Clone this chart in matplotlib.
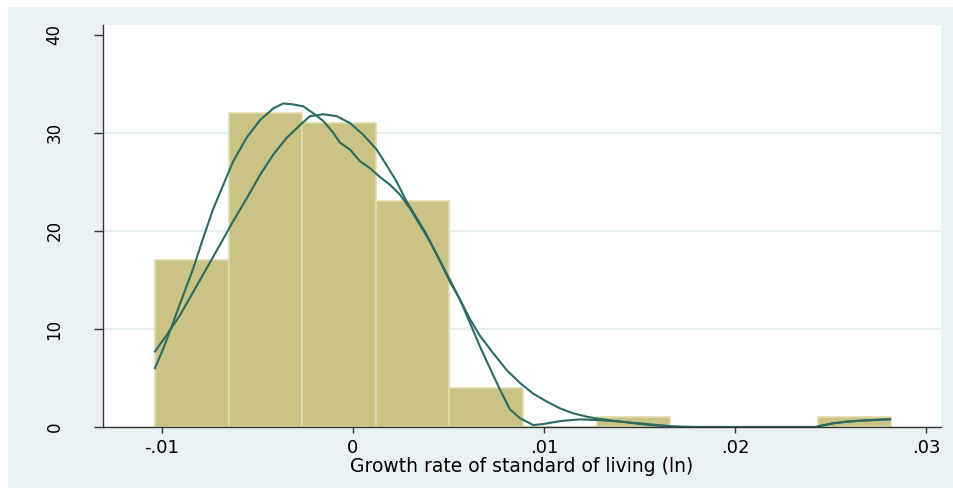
# growth_hist.py
# Histogram of standard-of-living growth rates with two density overlays

import numpy as np
import matplotlib.pyplot as plt
from matplotlib.patches import Rectangle

# Histogram bins (left edge of first bin, bin width) and counts per bin
bin_start = -0.01037
bin_width = 0.003855
counts = [17, 32, 31, 23, 4, 0, 1, 0, 0, 1]

# Wiggly density curve (narrow bandwidth), scaled to frequency
dens_a_x = [-0.01037, -0.00993, -0.00941, -0.00888, -0.00836, -0.00784, -0.00731,
            -0.00679, -0.00627, -0.00557, -0.00487, -0.00417, -0.00365, -0.00313,
            -0.00260, -0.00208, -0.00155, -0.00103, -0.00068, -0.00016, 0.00037,
            0.00089, 0.00141, 0.00194, 0.00246, 0.00298, 0.00351, 0.00403, 0.00455,
            0.00508, 0.00560, 0.00613, 0.00665, 0.00717, 0.00770, 0.00822, 0.00874,
            0.00944, 0.00996, 0.01084, 0.01189, 0.01293, 0.01398, 0.01503, 0.01607,
            0.01677, 0.01740, 0.01820, 0.02000, 0.02200, 0.02424, 0.02445, 0.02515,
            0.02585, 0.02654, 0.02724, 0.02812]
dens_a_y = [6.0, 8.0, 10.7, 13.5, 16.2, 19.3, 22.3,
            24.7, 27.1, 29.5, 31.3, 32.5, 33.0, 32.9,
            32.7, 32.0, 31.2, 30.0, 29.0, 28.3, 27.1,
            26.4, 25.5, 24.7, 23.7, 22.3, 20.6, 18.9, 17.0,
            15.0, 13.0, 10.6, 8.2, 6.0, 3.8, 1.8, 0.9,
            0.2, 0.3, 0.6, 0.78, 0.7, 0.55, 0.37, 0.17,
            0.04, 0.01, 0.0, 0.0, 0.0, 0.0, 0.10, 0.38,
            0.54, 0.64, 0.71, 0.79]

# Smooth density curve (wide bandwidth), scaled to frequency
dens_b_x = [-0.01037, -0.00975, -0.00906, -0.00836, -0.00766, -0.00696, -0.00627,
            -0.00557, -0.00487, -0.00417, -0.00347, -0.00277, -0.00225, -0.00155,
            -0.00085, -0.00016, 0.00054, 0.00124, 0.00176, 0.00229, 0.00281,
            0.00334, 0.00386, 0.00438, 0.00508, 0.00560, 0.00613, 0.00665, 0.00735,
            0.00805, 0.00874, 0.00944, 0.01014, 0.01084, 0.01153, 0.01224, 0.01293,
            0.01363, 0.01433, 0.01503, 0.01572, 0.01642, 0.01712, 0.01800, 0.02000,
            0.02200, 0.02424, 0.02445, 0.02515, 0.02585, 0.02654, 0.02724, 0.02812]
dens_b_y = [7.7, 9.4, 11.4, 13.8, 16.2, 18.6, 21.0,
            23.3, 25.7, 27.8, 29.5, 30.8, 31.7, 31.9,
            31.7, 31.0, 29.8, 28.3, 26.7, 25.0, 23.0,
            21.3, 19.6, 17.6, 14.8, 13.0, 11.0, 9.3, 7.5,
            5.8, 4.5, 3.4, 2.6, 1.9, 1.4, 1.05, 0.82,
            0.64, 0.48, 0.31, 0.17, 0.10, 0.03, 0.0, 0.0,
            0.0, 0.0, 0.10, 0.38, 0.54, 0.64, 0.71, 0.79]

x_ticks = [-0.01, 0, 0.01, 0.02, 0.03]
x_tick_labels = ['-.01', '0', '.01', '.02', '.03']
y_ticks = [0, 10, 20, 30, 40]

bar_color = '#CBC383'
bar_edge = '#DFDBAE'
line_color = '#2B6B62'
region_color = '#EAF1F3'

fig = plt.figure(figsize=(9.54, 4.88), dpi=100, facecolor='white')
# graph region background, leaving a thin white strip at top and left
fig.patches.append(Rectangle((8 / 954, 0), 1, (488 - 7) / 488, transform=fig.transFigure,
                             facecolor=region_color, edgecolor='none', zorder=-10))

ax = fig.add_axes([103 / 954, 61 / 488, 838 / 954, 402 / 488])
ax.set_facecolor('white')

edges = bin_start + bin_width * np.arange(len(counts) + 1)
ax.bar(edges[:-1], counts, width=bin_width, align='edge', color=bar_color,
       edgecolor=bar_edge, linewidth=1.2, zorder=2)

ax.plot(dens_b_x, dens_b_y, color=line_color, linewidth=1.5, zorder=3)
ax.plot(dens_a_x, dens_a_y, color=line_color, linewidth=1.5, zorder=3)

ax.set_xlim(-0.01309, 0.03079)
ax.set_ylim(0, 41.0)

ax.set_xticks(x_ticks)
ax.set_xticklabels(x_tick_labels, fontsize=13)
ax.set_yticks(y_ticks)
ax.set_yticklabels([str(v) for v in y_ticks], fontsize=12, rotation=90, va='center')

ax.tick_params(axis='y', direction='out', length=6.5, width=1, color='#333333', pad=22)
ax.tick_params(axis='x', direction='out', length=4.5, width=1, color='#333333', pad=4)

# horizontal grid only on interior ticks
for v in y_ticks[1:-1]:
    ax.axhline(v, color='#E6EEF1', linewidth=1.5, zorder=1)

for side in ['top', 'right']:
    ax.spines[side].set_visible(False)
for side in ['left', 'bottom']:
    ax.spines[side].set_color('#333333')
    ax.spines[side].set_linewidth(1)
    ax.spines[side].set_zorder(4)

ax.set_xlabel('Growth rate of standard of living (ln)', fontsize=13.5, labelpad=0)

fig.savefig('out.png', dpi=100, facecolor=fig.get_facecolor())
